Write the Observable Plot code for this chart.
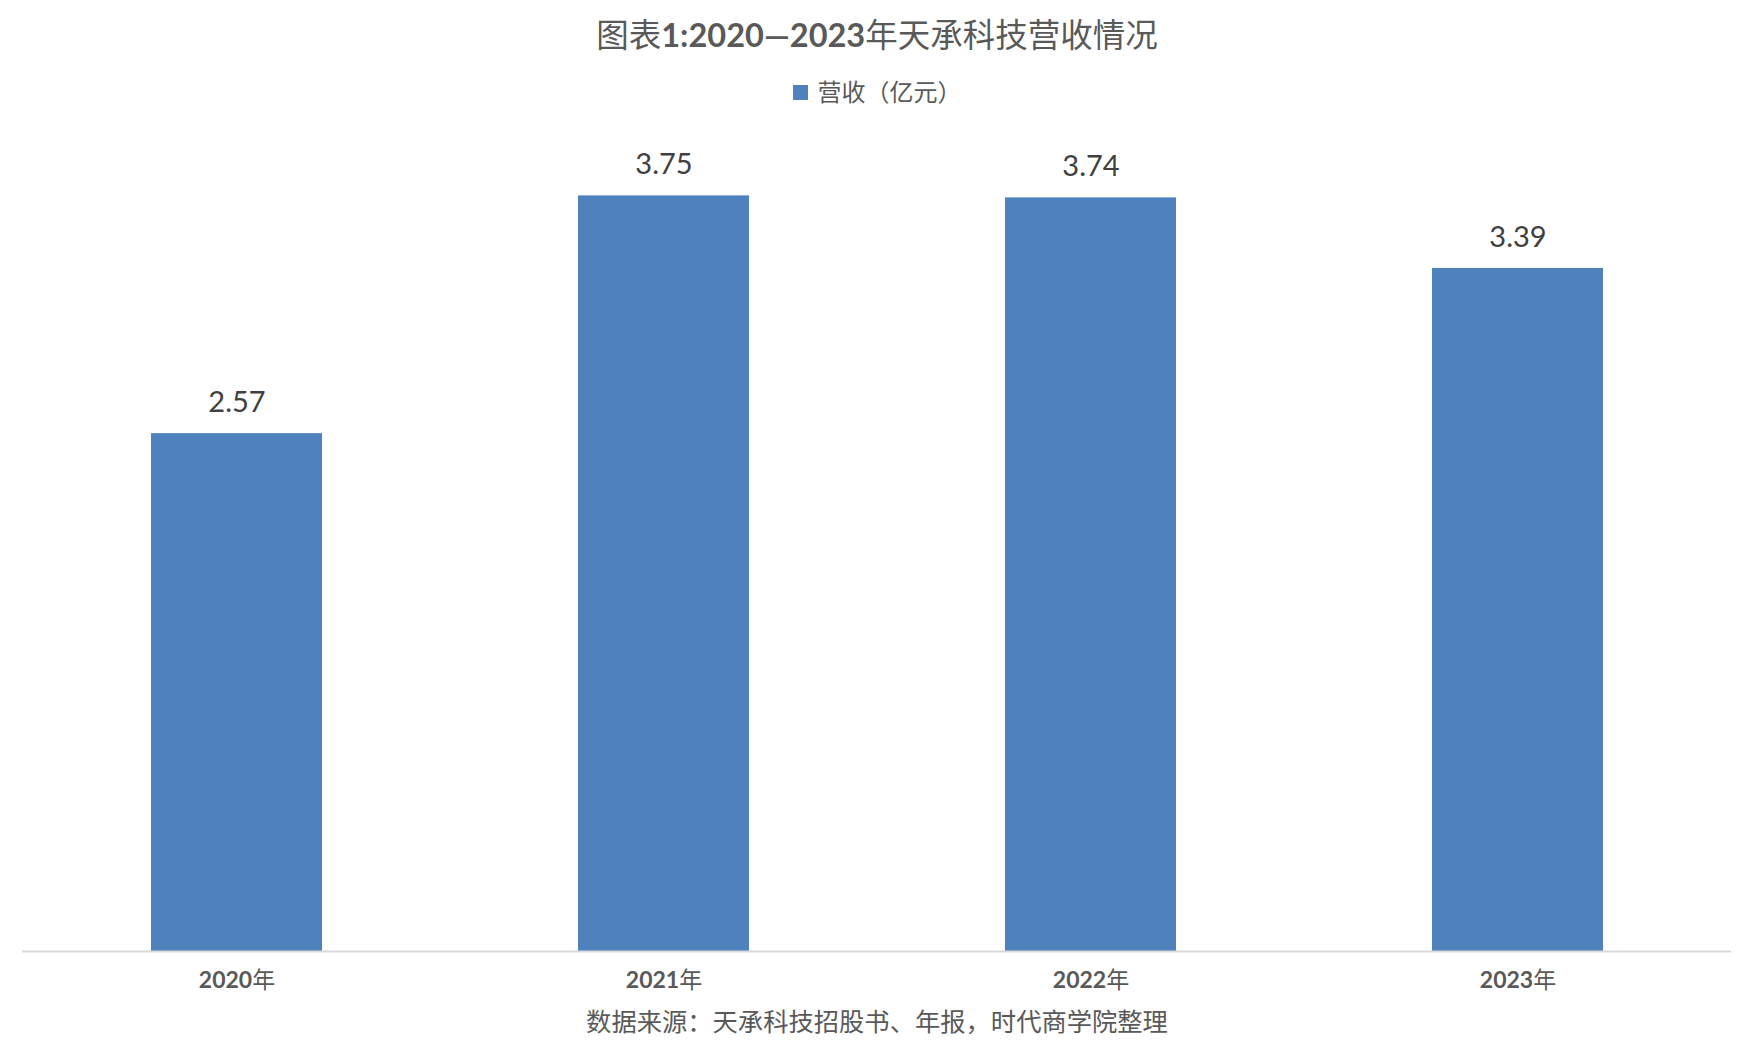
<!DOCTYPE html>
<html>
<head>
<meta charset="utf-8">
<script src="https://cdn.jsdelivr.net/npm/d3@7"></script>
<script src="https://cdn.jsdelivr.net/npm/@observablehq/plot@0.6"></script>
<style>
  html, body { margin: 0; padding: 0; background: #fff; }
  #wrap { width: 1754px; height: 1063px; position: relative; font-family: Lato, "Noto Sans CJK SC", sans-serif; color: #595959; }
  #title { position: absolute; left: 0; width: 1754px; top: 13px; text-align: center; font-size: 32.5px; line-height: 44px; font-family: Lato, "Noto Sans CJK SC", sans-serif; }
  #title b { font-weight: 700; }
  #legend { position: absolute; left: 0; width: 1754px; top: 75px; text-align: center; font-size: 24px; line-height: 32px; font-family: "Noto Sans CJK SC", sans-serif; }
  #legend .sw { display: inline-block; width: 15px; height: 15px; background: #4f81bd; margin-right: 10px; vertical-align: 1px; }
  #chart { position: absolute; left: 0; top: 120px; }
  #source { position: absolute; left: 0; width: 1754px; top: 1002px; text-align: center; font-size: 25.3px; line-height: 36px; font-family: "Noto Sans CJK SC", sans-serif; }
</style>
</head>
<body>
<div id="wrap">
  <div id="title">图表<b>1:2020—2023</b>年天承科技营收情况</div>
  <div id="legend"><span class="sw"></span>营收（亿元）</div>
  <div id="chart"></div>
  <div id="source">数据来源：天承科技招股书、年报，时代商学院整理</div>
</div>
<script>
const years = ["2020年", "2021年", "2022年", "2023年"];
const revenue = [2.57, 3.75, 3.74, 3.39];
const seriesName = "营收（亿元）";

const data = years.map((y, i) => ({year: y, value: revenue[i]}));

const plot = Plot.plot({
  width: 1754,
  height: 890,
  marginTop: 25,
  marginBottom: 59,
  marginLeft: 22,
  marginRight: 23,
  style: {fontFamily: 'Lato, "Noto Sans CJK SC", sans-serif', background: "transparent", color: "#595959"},
  x: {domain: years, paddingInner: 0.6, paddingOuter: 0.3, label: null},
  y: {domain: [0, 4], axis: null},
  marks: [
    Plot.barY(data, {x: "year", y: "value", fill: "#4f81bd"}),
    Plot.ruleY([0], {stroke: "#d9d9d9", strokeWidth: 2}),
    Plot.text(data, {x: "year", y: "value", text: d => d.value.toFixed(2), dy: -31, fontSize: 29, fill: "#404040", fontFamily: "Lato, sans-serif"}),
    Plot.axisX({tickSize: 0, tickPadding: 20, fontSize: 23, fontWeight: "bold", fill: "#595959", label: null})
  ]
});
document.getElementById("chart").appendChild(plot);

// split "2020年" into bold digits and regular CJK character
plot.querySelectorAll('g[aria-label="x-axis tick label"] text').forEach(t => {
  const s = t.textContent;
  const m = s.match(/^(\d+)(.*)$/);
  if (m) {
    t.textContent = "";
    const a = document.createElementNS("http://www.w3.org/2000/svg", "tspan");
    a.textContent = m[1];
    a.setAttribute("font-weight", "bold");
    const b = document.createElementNS("http://www.w3.org/2000/svg", "tspan");
    b.textContent = m[2];
    b.setAttribute("font-weight", "normal");
    b.setAttribute("font-family", '"Noto Sans CJK SC", sans-serif');
    t.appendChild(a); t.appendChild(b);
  }
});
</script>
</body>
</html>
